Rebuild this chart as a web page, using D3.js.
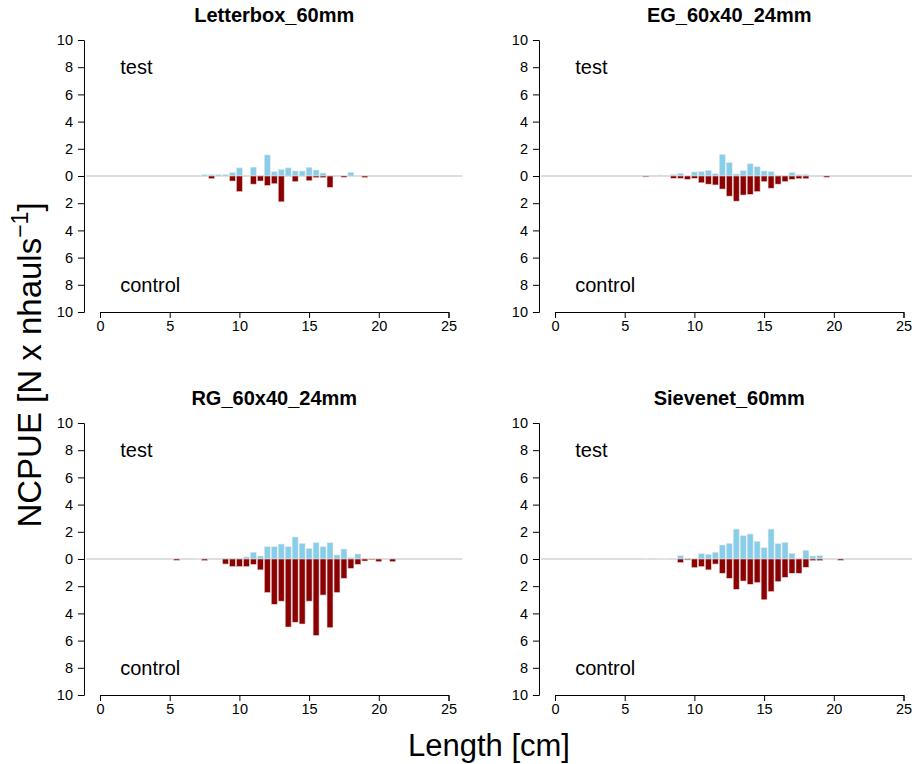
<!DOCTYPE html>
<html>
<head>
<meta charset="utf-8">
<script src="https://cdn.jsdelivr.net/npm/d3@7"></script>
<style>
  body { margin: 0; background: #fff; }
  svg { display: block; font-family: "Liberation Sans", Arial, sans-serif; }
</style>
</head>
<body>
<div id="chart"></div>
<script>
// length classes (cm)
const lengthClasses = [5, 5.5, 6, 6.5, 7, 7.5, 8, 8.5, 9, 9.5, 10, 10.5, 11, 11.5, 12, 12.5,
  13, 13.5, 14, 14.5, 15, 15.5, 16, 16.5, 17, 17.5, 18, 18.5, 19, 19.5, 20, 20.5, 21];

const panelNames = ['Letterbox_60mm', 'EG_60x40_24mm', 'RG_60x40_24mm', 'Sievenet_60mm'];

// NCPUE, test gear (upwards)
const letterboxTest = [0, 0, 0, 0, 0, 0.1, 0.1, 0.1, 0.1, 0.25, 0.6, 0, 0.65, 0, 1.55, 0.32,
  0.47, 0.6, 0.37, 0.37, 0.64, 0.44, 0.22, 0, 0, 0, 0.27, 0, 0, 0, 0, 0, 0];
const egTest = [0, 0, 0, 0, 0, 0.07, 0, 0.12, 0.2, 0.05, 0.3, 0.32, 0.42, 0.17, 1.58, 1.0,
  0.15, 0.4, 0.9, 0.68, 0.37, 0.32, 0.07, 0, 0.27, 0.1, 0.12, 0, 0, 0, 0, 0, 0];
const rgTest = [0, 0, 0, 0, 0.05, 0.07, 0, 0, 0, 0, 0, 0.15, 0.5, 0.22, 0.9, 0.9,
  1.1, 0.9, 1.62, 1.15, 0.78, 1.2, 0.9, 1.2, 0.3, 0.73, 0.1, 0.37, 0.07, 0.05, 0, 0, 0];
const sievenetTest = [0, 0, 0, 0.05, 0, 0.05, 0.05, 0, 0.25, 0.07, 0.05, 0.4, 0.35, 0.5, 1.03, 1.15,
  2.2, 1.72, 1.84, 1.3, 0.83, 2.2, 1.13, 1.22, 0.42, 0.07, 0.64, 0.22, 0.25, 0, 0, 0, 0];

// NCPUE, control gear (downwards)
const letterboxControl = [0, 0, 0, 0, 0, 0, 0.2, 0, 0, 0.37, 1.15, 0, 0.6, 0.37, 0.7, 0.57,
  1.9, 0, 0.42, 0, 0.35, 0.12, 0.12, 0.84, 0, 0.1, 0, 0, 0.12, 0, 0, 0, 0];
const egControl = [0, 0, 0, 0.07, 0, 0, 0, 0.17, 0.17, 0.25, 0.17, 0.5, 0.6, 0.66, 0.96, 1.48,
  1.85, 1.4, 1.35, 1.15, 0.42, 0.9, 0.6, 0.42, 0.25, 0.2, 0.2, 0, 0, 0.1, 0, 0, 0];
const rgControl = [0, 0.1, 0, 0, 0, 0.12, 0, 0, 0.37, 0.56, 0.56, 0.56, 0.4, 0.8, 2.47, 3.33,
  3.1, 5.0, 4.65, 4.78, 3.1, 5.63, 2.65, 5.05, 2.47, 1.42, 0.69, 0.4, 0.15, 0.05, 0.2, 0, 0.2];
const sievenetControl = [0, 0, 0, 0, 0, 0, 0, 0, 0.27, 0.07, 0.64, 0.56, 0.8, 0.37, 1.05, 1.42,
  2.23, 1.62, 1.86, 1.74, 3.0, 2.4, 1.67, 1.35, 1.05, 1.05, 0.61, 0.12, 0.12, 0, 0, 0.1, 0];

const testSeries = [letterboxTest, egTest, rgTest, sievenetTest];
const controlSeries = [letterboxControl, egControl, rgControl, sievenetControl];

const xTicks = [0, 5, 10, 15, 20, 25];
const yTicks = [10, 8, 6, 4, 2, 0, -2, -4, -6, -8, -10];

const width = 912;
const height = 764;
const testColor = '#87ceeb';
const controlColor = '#8b0000';

const svg = d3.select('#chart')
    .append('svg')
    .attr('width', width)
    .attr('height', height);

// panel positions: left x of the x axis and top of y axis
const panelLeft = [100, 555, 100, 555];
const panelTop = [40, 40, 423, 423];
const plotW = 348.5;
const plotH = 272;

panelNames.forEach((name, i) => {
  const g = svg.append('g');

  const x = d3.scaleLinear([0, 25], [panelLeft[i], panelLeft[i] + plotW]);
  const y = d3.scaleLinear([10, -10], [panelTop[i], panelTop[i] + plotH]);
  const binW = x(0.5) - x(0);

  // zero line across the plot region
  g.append('line')
      .attr('x1', x(-1))
      .attr('x2', x(26))
      .attr('y1', y(0))
      .attr('y2', y(0))
      .attr('stroke', '#bdbdbd')
      .attr('stroke-width', 1);

  // test bars (up)
  g.append('g').selectAll('rect')
    .data(lengthClasses.map((l, j) => ({ l, v: testSeries[i][j] })).filter(d => d.v > 0))
    .join('rect')
      .attr('x', d => x(d.l) - binW / 2 + 0.5)
      .attr('width', binW - 1)
      .attr('y', d => y(d.v))
      .attr('height', d => y(0) - y(d.v))
      .attr('fill', testColor)
      .attr('stroke', '#e8e8e8')
      .attr('stroke-width', 0.6);

  // control bars (down)
  g.append('g').selectAll('rect')
    .data(lengthClasses.map((l, j) => ({ l, v: controlSeries[i][j] })).filter(d => d.v > 0))
    .join('rect')
      .attr('x', d => x(d.l) - binW / 2 + 0.5)
      .attr('width', binW - 1)
      .attr('y', y(0))
      .attr('height', d => y(-d.v) - y(0))
      .attr('fill', controlColor)
      .attr('stroke', '#e8d8d8')
      .attr('stroke-width', 0.6);

  // x axis
  const xAxis = g.append('g')
      .attr('transform', `translate(0, ${y(-10)})`)
      .call(d3.axisBottom(x).tickValues(xTicks).tickSize(6).tickPadding(3));

  // y axis
  const yAxis = g.append('g')
      .attr('transform', `translate(${x(-1.15)}, 0)`)
      .call(d3.axisLeft(y).tickValues(yTicks).tickSize(6).tickPadding(5)
        .tickFormat(d => Math.abs(d)));

  [xAxis, yAxis].forEach(a => {
    a.selectAll('path, line').attr('stroke', '#000').attr('stroke-width', 1);
    a.selectAll('text')
        .attr('fill', '#000')
        .style('font-size', '14.5px')
        .style('font-family', '"Liberation Sans", Arial, sans-serif');
  });

  // title
  g.append('text')
      .text(name)
      .attr('x', x(12.5))
      .attr('y', panelTop[i] - 18)
      .attr('text-anchor', 'middle')
      .style('font-size', '20px')
      .style('font-weight', 'bold');

  g.append('text')
      .text('test')
      .attr('x', x(1.45))
      .attr('y', y(8) + 7)
      .style('font-size', '20px');

  g.append('text')
      .text('control')
      .attr('x', x(1.45))
      .attr('y', y(-8) + 7)
      .style('font-size', '20px');
});

// axis titles
svg.append('text')
    .text('Length [cm]')
    .attr('x', 489)
    .attr('y', 756)
    .attr('text-anchor', 'middle')
    .style('font-size', '31px');

const yTitle = svg.append('text')
    .attr('transform', 'translate(41, 365) rotate(-90)')
    .attr('text-anchor', 'middle')
    .style('font-size', '33px');
yTitle.append('tspan').text('NCPUE [N x nhauls');
yTitle.append('tspan').text('\u22121').attr('dy', -13).style('font-size', '23px');
yTitle.append('tspan').text(']').attr('dy', 13);
</script>
</body>
</html>
